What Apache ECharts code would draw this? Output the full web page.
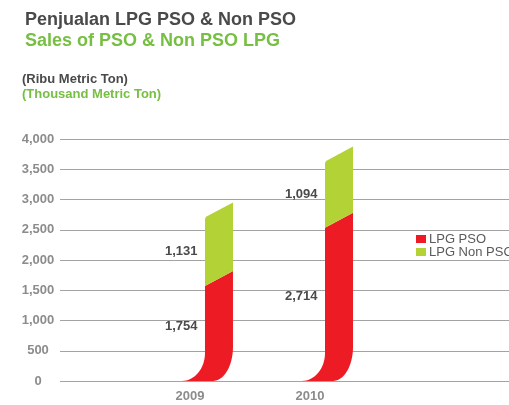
<!DOCTYPE html>
<html>
<head>
<meta charset="utf-8">
<title>Penjualan LPG PSO & Non PSO</title>
<script src="https://cdn.jsdelivr.net/npm/echarts@6/dist/echarts.min.js"></script>
<style>
  html, body { margin: 0; padding: 0; background: #ffffff; }
  #chart { width: 509px; height: 405px; }
</style>
</head>
<body>
<div id="chart"></div>
<script>
// Sales volumes in thousand metric tons
const years = [2009, 2010];
const psoValues = [1754, 2714];
const nonPsoValues = [1131, 1094];
const yTickStep = 500;
const yMax = 4000;

const FONT = '"Liberation Sans", Arial, sans-serif';
const RED = '#ed1c24';
const LIME = '#b3d235';
const TITLE_GREY = '#4a4a4a';
const TITLE_GREEN = '#76bf43';
const AXIS_GREY = '#8c8c8c';

// Swoosh-shaped bar geometry, in pixels relative to the year's anchor point
const TAIL = 8;        // tail tip, left of anchor
const LEFT = 15;       // left edge of the upright part
const RIGHT = 43;      // right edge of the upright part
const INNER = 23;      // inner foot of the curve
const BEND_L = 28;     // height where left edge turns upright
const BEND_R = 34;     // height where right edge turns upright
const RISE_R = 4;      // slanted top: right corner raised
const DROP_L = 11;     // slanted top: left corner lowered
const K = 0.5523;      // cubic approximation of a quarter ellipse

const fmt = v => v.toLocaleString('en-US');

function renderSwoosh(params, api) {
  const year = api.value(0);
  const start = api.value(1);
  const end = api.value(2);
  const shown = api.value(3);
  const base = api.coord([year, 0]);
  const ax = base[0], y0 = base[1];
  const yS = api.coord([year, start])[1];
  const yE = api.coord([year, end])[1];
  const xl = ax + LEFT, xr = ax + RIGHT;
  let d;
  let labelY;
  if (start === 0) {
    d = [
      'M', ax - TAIL, y0,
      'C', ax - TAIL + (TAIL + LEFT) * K, y0, xl, y0 - BEND_L + BEND_L * K, xl, y0 - BEND_L,
      'L', xl, yE + DROP_L,
      'L', xr, yE - RISE_R,
      'L', xr, y0 - BEND_R,
      'C', xr, y0 - BEND_R + BEND_R * K, ax + INNER + (RIGHT - INNER) * K, y0, ax + INNER, y0,
      'Z'
    ].join(' ');
    labelY = api.coord([year, end / 2])[1] - 2;
  } else {
    d = [
      'M', xl, yS + DROP_L,
      'L', xl, yE + DROP_L + 2,
      'Q', xl, yE + DROP_L, xl + 2, yE + DROP_L - 1.1,
      'L', xr, yE - RISE_R,
      'L', xr, yS - RISE_R,
      'Z'
    ].join(' ');
    labelY = api.coord([year, (start + end) / 2])[1] + DROP_L;
  }
  return {
    type: 'group',
    children: [
      {
        type: 'path',
        shape: { pathData: d },
        style: { fill: api.visual('color') }
      },
      {
        type: 'text',
        style: {
          text: fmt(shown),
          x: xl - 7.5,
          y: labelY,
          align: 'right',
          verticalAlign: 'middle',
          fontFamily: FONT,
          fontSize: 13,
          fontWeight: 'bold',
          fill: TITLE_GREY
        }
      }
    ]
  };
}

const psoData = years.map((y, i) => [y, 0, psoValues[i], psoValues[i]]);
const nonPsoData = years.map((y, i) => [y, psoValues[i], psoValues[i] + nonPsoValues[i], nonPsoValues[i]]);

const chart = echarts.init(document.getElementById('chart'));
chart.setOption({
  animation: false,
  backgroundColor: '#ffffff',
  title: [
    { text: 'Penjualan LPG PSO & Non PSO', left: 25, top: 11, padding: 0,
      textStyle: { fontFamily: FONT, fontSize: 18, fontWeight: 'bold', color: TITLE_GREY, lineHeight: 18 } },
    { text: 'Sales of PSO & Non PSO LPG', left: 25, top: 32, padding: 0,
      textStyle: { fontFamily: FONT, fontSize: 18, fontWeight: 'bold', color: TITLE_GREEN, lineHeight: 18 } },
    { text: '(Ribu Metric Ton)', left: 22, top: 72.5, padding: 0,
      textStyle: { fontFamily: FONT, fontSize: 13, fontWeight: 'bold', color: TITLE_GREY, lineHeight: 13 } },
    { text: '(Thousand Metric Ton)', left: 22, top: 87.5, padding: 0,
      textStyle: { fontFamily: FONT, fontSize: 13, fontWeight: 'bold', color: TITLE_GREEN, lineHeight: 13 } }
  ],
  legend: {
    orient: 'vertical',
    left: 416,
    top: 232.5,
    padding: 0,
    itemWidth: 10,
    itemHeight: 8,
    itemGap: 0,
    icon: 'rect',
    textStyle: { fontFamily: FONT, fontSize: 13, color: '#5a5a5a', lineHeight: 13, padding: [0, 0, 0, -2] },
    data: ['LPG PSO', 'LPG Non PSO']
  },
  grid: { left: 60, right: 0, top: 139, bottom: 24 },
  xAxis: {
    type: 'value',
    min: 2007.917,
    max: 2011.658,
    splitLine: { show: false },
    axisLine: { show: false },
    axisTick: { show: false },
    axisLabel: {
      customValues: years,
      formatter: v => String(v),
      margin: 9,
      fontFamily: FONT,
      fontSize: 13,
      fontWeight: 'bold',
      color: AXIS_GREY
    }
  },
  yAxis: {
    type: 'value',
    min: 0,
    max: yMax,
    interval: yTickStep,
    axisLine: { show: false },
    axisTick: { show: false },
    splitLine: { lineStyle: { color: '#a3a3a3', width: 1 } },
    axisLabel: {
      formatter: v => fmt(v),
      align: 'center',
      margin: 22,
      fontFamily: FONT,
      fontSize: 13,
      fontWeight: 'bold',
      color: AXIS_GREY
    }
  },
  series: [
    {
      name: 'LPG PSO',
      type: 'custom',
      renderItem: renderSwoosh,
      itemStyle: { color: RED },
      encode: { x: 0, y: 2 },
      data: psoData
    },
    {
      name: 'LPG Non PSO',
      type: 'custom',
      renderItem: renderSwoosh,
      itemStyle: { color: LIME },
      encode: { x: 0, y: 2 },
      data: nonPsoData
    }
  ]
});
</script>
</body>
</html>
